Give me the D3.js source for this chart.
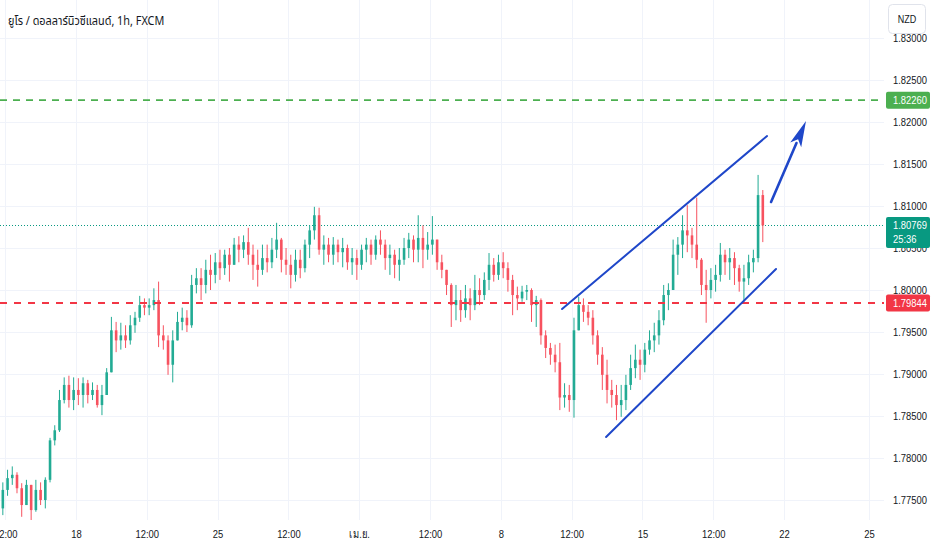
<!DOCTYPE html>
<html>
<head>
<meta charset="utf-8">
<script src="https://cdn.jsdelivr.net/npm/d3@7/dist/d3.min.js"></script>
<style>
  html, body { margin: 0; padding: 0; background: #ffffff; }
  svg { display: block; }
  .ax text { font-family: "Liberation Sans", Arial, sans-serif; font-size: 11.5px; fill: #131722; }
</style>
</head>
<body>
<svg id="chart" width="932" height="550"></svg>
<script>
// ---------------- DATA ----------------
const title = "ยูโร / ดอลลาร์นิวซีแลนด์, 1h, FXCM";
const currency = "NZD";
// bars: 4-hour aggregation of the hourly chart; hour index 0 = 18 Mar 00:00 (trading hours only)
const barStartHour = -64;
const barHours = 4;
const open0 = 1.7740;
const closes = [
1.7762,1.7776,1.7780,1.7764,1.7744,1.7768,1.7738,1.7762,1.7750,1.7774,
1.7821,1.7833,1.7869,1.7887,1.7869,1.7881,1.7875,1.7889,1.7875,1.7881,
1.7863,1.7875,1.7902,1.7952,1.7940,1.7946,1.7940,1.7958,1.7967,1.7982,
1.7979,1.7982,1.7988,1.7946,1.7940,1.7911,1.7940,1.7962,1.7967,1.7958,
1.8006,1.8014,1.8006,1.8024,1.8018,1.8033,1.8026,1.8042,1.8030,1.8054,
1.8048,1.8057,1.8042,1.8030,1.8024,1.8038,1.8033,1.8048,1.8060,1.8036,
1.8030,1.8018,1.8036,1.8026,1.8054,1.8071,1.8089,1.8048,1.8054,1.8042,
1.8054,1.8045,1.8050,1.8033,1.8038,1.8030,1.8048,1.8054,1.8042,1.8060,
1.8054,1.8038,1.8042,1.8030,1.8036,1.8050,1.8060,1.8048,1.8062,1.8048,
1.8054,1.8060,1.8033,1.8024,1.8006,1.7982,1.7988,1.7976,1.7990,1.7982,
1.8000,1.7994,1.8012,1.8030,1.8018,1.8033,1.8026,1.8012,1.7994,1.7990,
1.7998,1.8000,1.7982,1.7988,1.7946,1.7931,1.7923,1.7914,1.7872,1.7875,
1.7869,1.7952,1.7982,1.7974,1.7967,1.7946,1.7923,1.7899,1.7881,1.7875,
1.7863,1.7869,1.7887,1.7907,1.7917,1.7911,1.7929,1.7940,1.7946,1.7964,
1.7994,1.8000,1.8042,1.8054,1.8071,1.8065,1.8054,1.8036,1.8006,1.8000,
1.8012,1.8018,1.8042,1.8033,1.8038,1.8026,1.8010,1.8014,1.8033,1.8038,
1.8113,1.80769
];
const highs = [
1.7771,1.7786,1.7790,1.7783,1.7770,1.7774,1.7768,1.7774,1.7771,1.7777,
1.7824,1.7839,1.7881,1.7896,1.7898,1.7896,1.7895,1.7896,1.7893,1.7890,
1.7887,1.7887,1.7907,1.7968,1.7962,1.7961,1.7958,1.7970,1.7974,1.7993,
1.7990,1.7990,1.8002,1.8010,1.7958,1.7946,1.7952,1.7974,1.7979,1.7976,
1.8018,1.8026,1.8026,1.8036,1.8042,1.8044,1.8048,1.8048,1.8050,1.8062,
1.8064,1.8065,1.8074,1.8054,1.8048,1.8054,1.8054,1.8062,1.8080,1.8062,
1.8050,1.8042,1.8048,1.8048,1.8060,1.8077,1.8099,1.8098,1.8065,1.8062,
1.8063,1.8060,1.8062,1.8054,1.8050,1.8048,1.8054,1.8062,1.8060,1.8065,
1.8071,1.8060,1.8054,1.8048,1.8050,1.8062,1.8068,1.8065,1.8089,1.8077,
1.8069,1.8088,1.8054,1.8042,1.8024,1.8008,1.8006,1.8000,1.8006,1.8002,
1.8018,1.8014,1.8021,1.8044,1.8038,1.8042,1.8045,1.8033,1.8018,1.8004,
1.8005,1.8006,1.8002,1.7993,1.7990,1.7952,1.7937,1.7935,1.7937,1.7889,
1.7887,1.7967,1.7992,1.7990,1.7982,1.7976,1.7952,1.7932,1.7917,1.7893,
1.7887,1.7887,1.7899,1.7923,1.7935,1.7929,1.7937,1.7952,1.7961,1.7976,
1.8006,1.8008,1.8060,1.8063,1.8089,1.8101,1.8074,1.8110,1.8038,1.8024,
1.8026,1.8030,1.8056,1.8048,1.8050,1.8045,1.8030,1.8030,1.8042,1.8048,
1.8137,1.8119
];
const lows = [
1.7732,1.7755,1.7768,1.7758,1.7730,1.7744,1.7724,1.7736,1.7744,1.7740,
1.7771,1.7815,1.7831,1.7865,1.7860,1.7857,1.7863,1.7860,1.7865,1.7869,
1.7860,1.7851,1.7875,1.7905,1.7926,1.7929,1.7931,1.7935,1.7949,1.7962,
1.7970,1.7970,1.7976,1.7932,1.7929,1.7899,1.7890,1.7940,1.7952,1.7950,
1.7955,1.7996,1.7988,1.7996,1.8000,1.8008,1.8012,1.8018,1.8010,1.8030,
1.8033,1.8038,1.8030,1.8012,1.8004,1.8018,1.8021,1.8026,1.8038,1.8021,
1.8018,1.8002,1.8010,1.8014,1.8021,1.8038,1.8060,1.8042,1.8030,1.8033,
1.8030,1.8033,1.8027,1.8024,1.8018,1.8012,1.8024,1.8033,1.8030,1.8036,
1.8042,1.8024,1.8018,1.8014,1.8011,1.8030,1.8038,1.8033,1.8033,1.8026,
1.8036,1.8042,1.8024,1.8014,1.7994,1.7956,1.7964,1.7962,1.7967,1.7964,
1.7976,1.7982,1.7988,1.8000,1.8010,1.8012,1.8014,1.7998,1.7970,1.7976,
1.7986,1.7988,1.7962,1.7956,1.7935,1.7919,1.7911,1.7902,1.7857,1.7860,
1.7855,1.7848,1.7958,1.7962,1.7958,1.7935,1.7911,1.7881,1.7865,1.7860,
1.7845,1.7849,1.7857,1.7881,1.7895,1.7893,1.7902,1.7923,1.7926,1.7935,
1.7958,1.7976,1.8000,1.8018,1.8038,1.8045,1.8038,1.8026,1.7994,1.7961,
1.7990,1.7998,1.8010,1.8018,1.8012,1.8006,1.7998,1.7986,1.8006,1.8021,
1.8033,1.8057
];
const countdown = "25:36";
// time axis
const xTickLabels = ["12:00","18","12:00","25","12:00","เม.ย.","12:00","8","12:00","15","12:00","22","25"];
const xTickHours  = [-60, 0, 60, 120, 180, 240, 300, 360, 420, 480, 540, 600, 672];
const viewHours = [-64.4, 684.7];
// price axis
const yTickValues = [1.775,1.780,1.785,1.790,1.795,1.800,1.805,1.810,1.815,1.820,1.825,1.830];
const priceRangeRef = [1.775, 1.830];
// drawings
const levelPrices = [1.82260, 1.79844];
const levelKinds  = ["target", "support"];
const channelStartHours = [411.9, 449.2];
const channelStartPrices = [1.79774, 1.7825];
const channelEndHours = [585.6, 593.2];
const channelEndPrices = [1.81833, 1.8025];
const arrowHours = [589, 618.6];
const arrowPrices = [1.81048, 1.82012];

// ---------------- LAYOUT ----------------
const W = 932, H = 550;
const plotRight = 884, plotBottom = 520;
const upColor = "#22ab94", downColor = "#f7525f";
const gridColor = "#f0f3fa";
const blue = "#1f47c9";
const narrow = "scale(0.82,1)";
const labelFont = '"Liberation Sans", Arial, sans-serif';

const svg = d3.select("#chart");
const x = d3.scaleLinear().domain(viewHours).range([0, plotRight]);
const y = d3.scaleLinear().domain(priceRangeRef).range([500, 38]);
const fmt = d3.format(".5f");

const bars = closes.map((c, k) => {
  const o = k === 0 ? open0 : closes[k - 1];
  return { t: barStartHour + k * barHours + barHours / 2, o, c, h: highs[k], l: lows[k] };
});

svg.append("rect").attr("width", W).attr("height", H).attr("fill", "#fff");

const plot = svg.append("g");
plot.append("clipPath").attr("id", "clip").append("rect")
  .attr("x", 0).attr("y", 0).attr("width", plotRight).attr("height", plotBottom);
const pg = plot.append("g").attr("clip-path", "url(#clip)");

// grid
pg.append("g").selectAll("line").data(yTickValues).join("line")
  .attr("x1", 0).attr("x2", plotRight)
  .attr("y1", d => Math.round(y(d)) + 0.5).attr("y2", d => Math.round(y(d)) + 0.5)
  .attr("stroke", gridColor).attr("stroke-width", 1);
pg.append("g").selectAll("line").data(xTickHours).join("line")
  .attr("x1", d => Math.round(x(d)) + 0.5).attr("x2", d => Math.round(x(d)) + 0.5)
  .attr("y1", 0).attr("y2", plotBottom)
  .attr("stroke", gridColor).attr("stroke-width", 1);

// current price dotted line
const last = bars[bars.length - 1];
pg.append("line")
  .attr("x1", 0).attr("x2", plotRight)
  .attr("y1", Math.round(y(last.c)) + 0.5).attr("y2", Math.round(y(last.c)) + 0.5)
  .attr("stroke", "#089981").attr("stroke-width", 1).attr("stroke-dasharray", "1,2");

// candles
const bw = (x(barHours) - x(0)) * 0.55;
const cg = pg.append("g");
cg.selectAll("line").data(bars).join("line")
  .attr("x1", d => x(d.t)).attr("x2", d => x(d.t))
  .attr("y1", d => y(Math.max(d.h, d.o, d.c))).attr("y2", d => y(Math.min(d.l, d.o, d.c)))
  .attr("stroke", d => d.c >= d.o ? upColor : downColor).attr("stroke-width", 1);
cg.selectAll("rect").data(bars).join("rect")
  .attr("x", d => x(d.t) - bw / 2).attr("width", bw)
  .attr("y", d => y(Math.max(d.o, d.c)))
  .attr("height", d => Math.max(1, Math.abs(y(d.o) - y(d.c))))
  .attr("fill", d => d.c >= d.o ? upColor : downColor);

// horizontal levels
const levelStyle = { target: { color: "#4caf50", dash: "7,6", w: 1.6 }, support: { color: "#f23645", dash: "7,7", w: 2 } };
levelPrices.forEach((p, i) => {
  const s = levelStyle[levelKinds[i]];
  pg.append("line").attr("x1", 0).attr("x2", plotRight)
    .attr("y1", y(p)).attr("y2", y(p))
    .attr("stroke", s.color).attr("stroke-width", s.w).attr("stroke-dasharray", s.dash);
});

// channel lines
channelStartHours.forEach((t, i) => {
  pg.append("line")
    .attr("x1", x(t)).attr("y1", y(channelStartPrices[i]))
    .attr("x2", x(channelEndHours[i])).attr("y2", y(channelEndPrices[i]))
    .attr("stroke", blue).attr("stroke-width", 2).attr("stroke-linecap", "round");
});

// arrow
{
  const x1 = x(arrowHours[0]), y1 = y(arrowPrices[0]);
  const x2 = x(arrowHours[1]), y2 = y(arrowPrices[1]);
  const dx = x2 - x1, dy = y2 - y1, len = Math.hypot(dx, dy);
  const ux = dx / len, uy = dy / len, px = -uy, py = ux;
  const headL = 26, headW = 6;
  const bx = x2 - ux * headL, by = y2 - uy * headL;
  pg.append("line").attr("x1", x1).attr("y1", y1).attr("x2", bx + ux * 2).attr("y2", by + uy * 2)
    .attr("stroke", blue).attr("stroke-width", 2.6).attr("stroke-linecap", "round");
  pg.append("path")
    .attr("d", `M${x2},${y2}L${bx + px * headW},${by + py * headW}L${bx + ux * 6},${by + uy * 6}L${bx - px * headW},${by - py * headW}Z`)
    .attr("fill", blue);
}

// ---------------- AXES ----------------
const yAxis = d3.axisRight(y).tickValues(yTickValues).tickFormat(fmt).tickSize(0).tickPadding(0);
svg.append("g").attr("class", "ax").attr("transform", `translate(${plotRight + 9},0)`)
  .call(yAxis).call(g => g.select(".domain").remove())
  .call(g => g.selectAll("text").attr("transform", narrow));

const xAxis = d3.axisBottom(x).tickValues(xTickHours)
  .tickFormat((d, i) => xTickLabels[i]).tickSize(0).tickPadding(0);
svg.append("g").attr("class", "ax").attr("transform", `translate(0,${plotBottom + 10})`)
  .call(xAxis).call(g => g.select(".domain").remove())
  .call(g => g.selectAll("text").attr("transform", narrow));

// price labels on axis
function priceTag(p, color, lines) {
  const cy = y(p);
  const hgt = lines.length === 1 ? 17 : 31;
  svg.append("rect").attr("x", plotRight + 2).attr("y", cy - 8.5).attr("width", 44).attr("height", hgt)
    .attr("rx", 2).attr("fill", color);
  lines.forEach((t, i) => {
    svg.append("g").attr("transform", `translate(${plotRight + 9},${cy + 4 + i * 14})`)
      .append("text").attr("transform", narrow)
      .attr("font-family", labelFont)
      .attr("font-size", 11.5).attr("fill", "#fff").text(t);
  });
}
priceTag(levelPrices[0], "#4caf50", [fmt(levelPrices[0])]);
priceTag(levelPrices[1], "#f23645", [fmt(levelPrices[1])]);
priceTag(last.c, "#089981", [fmt(last.c), countdown]);

// currency button
svg.append("rect").attr("x", 888.5).attr("y", 4.5).attr("width", 37).attr("height", 29)
  .attr("rx", 4).attr("fill", "#fff").attr("stroke", "#e0e3eb");
svg.append("g").attr("transform", "translate(907,23)")
  .append("text").attr("text-anchor", "middle").attr("transform", narrow)
  .attr("font-family", labelFont)
  .attr("font-size", 11).attr("fill", "#131722").text(currency);

// title
svg.append("g").attr("transform", "translate(8,25)")
  .append("text").attr("transform", "scale(0.87,1)")
  .attr("font-family", '"Noto Sans Thai", "Noto Sans", "DejaVu Sans", sans-serif')
  .attr("font-size", 12.5).attr("fill", "#131722").text(title);
</script>
</body>
</html>
